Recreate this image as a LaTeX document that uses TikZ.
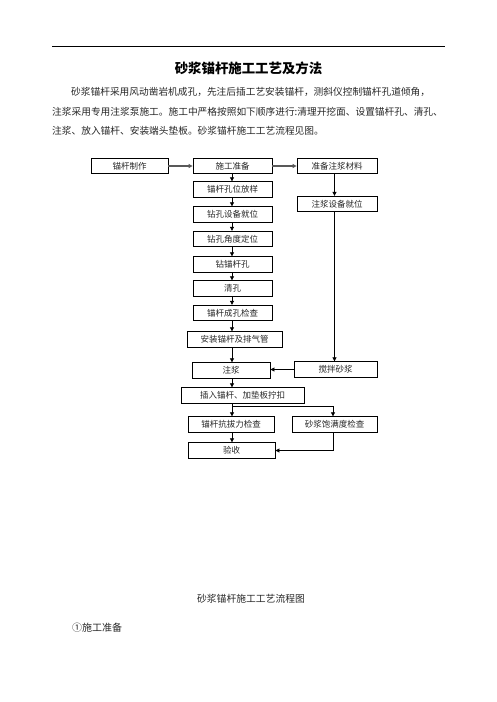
\documentclass[tikz,border=0pt]{standalone}
\usepackage{fontspec}
\setmainfont{Noto Sans CJK SC}
\usetikzlibrary{arrows.meta}
\tikzset{
  box/.style={draw=black, line width=0.8pt, inner sep=0pt, minimum height=15.5pt, font=\fontsize{8.5pt}{9pt}\selectfont, text=black!85},
  arr/.style={line width=0.7pt, -{Triangle[length=4pt,width=4pt]}},
  harr/.style={line width=1.1pt, draw=black!65, -{Triangle[length=4pt,width=4pt]}},
  plain/.style={line width=0.7pt},
  para/.style={anchor=west, inner sep=0pt, font=\fontsize{9.7pt}{10pt}\selectfont, text=black!85}
}
\begin{document}
\begin{tikzpicture}[x=1pt,y=-1pt]
\useasboundingbox (0,0) rectangle (496,702);
\coordinate (rl) at (52,46);
\coordinate (rr) at (445,46);
\draw[line width=0.9pt] (rl) -- (rr);
\node[inner sep=0pt, font=\fontsize{13.4pt}{14pt}\selectfont\bfseries] (title) at (248.5,68) {砂浆锚杆施工工艺及方法};
\node[para] (p1) at (71,92) {砂浆锚杆采用风动凿岩机成孔，先注后插工艺安装锚杆，测斜仪控制锚杆孔道倾角，};
\node[para] (p2) at (52,111.5) {注浆采用专用注浆泵施工。施工中严格按照如下顺序进行:清理开挖面、设置锚杆孔、清孔、};
\node[para] (p3) at (52,130.5) {注浆、放入锚杆、安装端头垫板。砂浆锚杆施工工艺流程见图。};

\coordinate (cx) at (232,0);
\coordinate (rx) at (334.5,0);
\coordinate (rx2) at (333,0);

\node[box, minimum width=77pt] (zz) at (129.5,166) {锚杆制作};
\node[box, minimum width=79pt] (sg) at (232.5,166) {施工准备};
\node[box, minimum width=80pt] (zb) at (337,166) {准备注浆材料};
\node[box, minimum width=79pt] (fy) at (232.5,189.5) {锚杆孔位放样};
\node[box, minimum width=80pt] (sb) at (337,204) {注浆设备就位};
\node[box, minimum width=79pt] (zw) at (232.5,214.5) {钻孔设备就位};
\node[box, minimum width=79pt] (jd) at (232.5,239) {钻孔角度定位};
\node[box, minimum width=79pt] (zk) at (232.5,264.5) {钻锚杆孔};
\node[box, minimum width=79pt] (qk) at (232.5,288.5) {清孔};
\node[box, minimum width=79pt] (jc) at (232.5,313) {锚杆成孔检查};
\node[box, minimum width=95pt] (az) at (234.5,339.5) {安装锚杆及排气管};
\node[box, minimum width=78pt] (zj) at (231,370.5) {注浆};
\node[box, minimum width=83pt] (jb) at (335.5,369.5) {搅拌砂浆};
\node[box, minimum width=123pt] (cr) at (242.5,395.5) {插入锚杆、加垫板拧扣};
\node[box, minimum width=86pt] (kb) at (231,424.5) {锚杆抗拔力检查};
\node[box, minimum width=85pt] (bm) at (334.5,424.5) {砂浆饱满度检查};
\node[box, minimum width=87pt] (ys) at (231.5,450.5) {验收};

\draw[harr] (zz.east) -- (sg.west);
\draw[harr] (sg.east) -- (zb.west);
\draw[arr] (zb.south -| rx) -- (sb.north -| rx);
\draw[arr] (sb.south -| rx) -- (jb.north -| rx);
\draw[arr] (sg.south -| cx) -- (fy.north -| cx);
\draw[arr] (fy.south -| cx) -- (zw.north -| cx);
\draw[arr] (zw.south -| cx) -- (jd.north -| cx);
\draw[arr] (jd.south -| cx) -- (zk.north -| cx);
\draw[arr] (zk.south -| cx) -- (qk.north -| cx);
\draw[arr] (qk.south -| cx) -- (jc.north -| cx);
\draw[arr] (jc.south -| cx) -- (az.north -| cx);
\draw[arr] (az.south -| cx) -- (zj.north -| cx);
\draw[arr] (jb.west) -- (jb.west -| zj.east);
\draw[arr] (zj.south -| cx) -- (cr.north -| cx);
\draw[arr] (cr.south -| cx) -- (kb.north -| cx);
\coordinate (br) at (232,406);
\draw[arr] (br) -| (bm.north -| rx2);
\draw[arr] (kb.south -| cx) -- (ys.north -| cx);
\draw[arr] (bm.south -| rx2) |- (ys.east);

\node[inner sep=0pt, font=\fontsize{9.8pt}{10pt}\selectfont, text=black!85] (cap) at (251,599) {砂浆锚杆施工工艺流程图};
\node[para, font=\fontsize{10pt}{10pt}\selectfont] (s1) at (72,628) {①施工准备};
\end{tikzpicture}
\end{document}
